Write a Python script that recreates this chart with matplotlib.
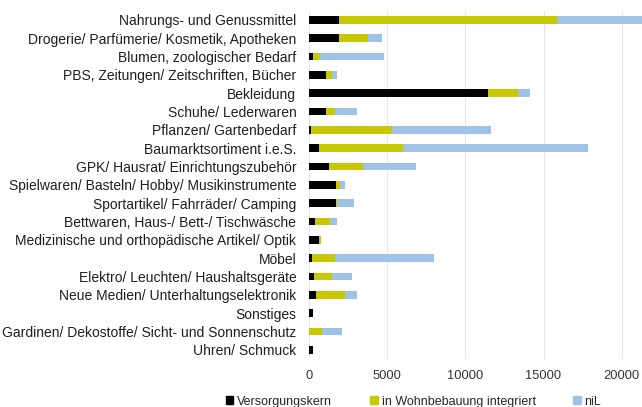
import matplotlib
matplotlib.use("Agg")
import matplotlib.pyplot as plt
from matplotlib.patches import Patch

plt.rcParams['font.family'] = ['Liberation Sans', 'DejaVu Sans']

# categories, top to bottom
categories = [
    "Nahrungs- und Genussmittel",
    "Drogerie/ Parfümerie/ Kosmetik, Apotheken",
    "Blumen, zoologischer Bedarf",
    "PBS, Zeitungen/ Zeitschriften, Bücher",
    "Bekleidung",
    "Schuhe/ Lederwaren",
    "Pflanzen/ Gartenbedarf",
    "Baumarktsortiment i.e.S.",
    "GPK/ Hausrat/ Einrichtungszubehör",
    "Spielwaren/ Basteln/ Hobby/ Musikinstrumente",
    "Sportartikel/ Fahrräder/ Camping",
    "Bettwaren, Haus-/ Bett-/ Tischwäsche",
    "Medizinische und orthopädische Artikel/ Optik",
    "Möbel",
    "Elektro/ Leuchten/ Haushaltsgeräte",
    "Neue Medien/ Unterhaltungselektronik",
    "Sonstiges",
    "Gardinen/ Dekostoffe/ Sicht- und Sonnenschutz",
    "Uhren/ Schmuck",
]

versorgungskern = [1950, 1950, 250, 1090, 11430, 1130, 150, 660, 1320, 1730,
                   1710, 400, 660, 190, 320, 470, 300, 40, 280]
wohnbebauung = [13900, 1820, 470, 380, 1920, 530, 5160, 5370, 2130, 280,
                100, 980, 110, 1490, 1150, 1850, 0, 830, 0]
nil = [6000, 900, 4070, 320, 810, 1450, 6330, 11790, 3390, 320,
       1070, 450, 0, 6310, 1320, 750, 0, 1220, 0]

series_names = ["Versorgungskern", "in Wohnbebauung integriert", "niL"]
colors = ["#000000", "#c8c800", "#9fc3e7"]

fig = plt.figure(figsize=(6.42, 4.07), dpi=100)
ax = fig.add_axes([0.481, 0.118, 0.519, 0.856])

y = list(range(len(categories)))
left = [0] * len(categories)
for vals, col in zip([versorgungskern, wohnbebauung, nil], colors):
    ax.barh(y, vals, left=left, height=0.42, color=col, zorder=3)
    left = [a + b for a, b in zip(left, vals)]

ax.set_yticks(y)
ax.set_yticklabels(categories, fontsize=10, color="#1f1f1f")
ax.set_ylim(len(categories) - 0.5, -0.5)
ax.set_xlim(0, 21290)
ax.set_xticks([0, 5000, 10000, 15000, 20000])
ax.tick_params(axis='x', length=0, labelsize=9.3, labelcolor="#333333", pad=8)
ax.tick_params(axis='y', length=0, pad=9)
ax.grid(axis='x', color="#e6e6e6", linewidth=0.8, zorder=0)
for s in ax.spines.values():
    s.set_visible(False)

# legend entries placed like the original (uneven spacing)
legend_x = [0.352, 0.577, 0.893]
for name, col, lx in zip(series_names, colors, legend_x):
    fig.legend(handles=[Patch(color=col)], labels=[name], loc='center left',
               bbox_to_anchor=(lx, 0.013), frameon=False, fontsize=9,
               handlelength=0.6, handleheight=0.6, handletextpad=0.3,
               borderaxespad=0, borderpad=0, labelcolor="#262626")

fig.savefig("out.png", dpi=100)
